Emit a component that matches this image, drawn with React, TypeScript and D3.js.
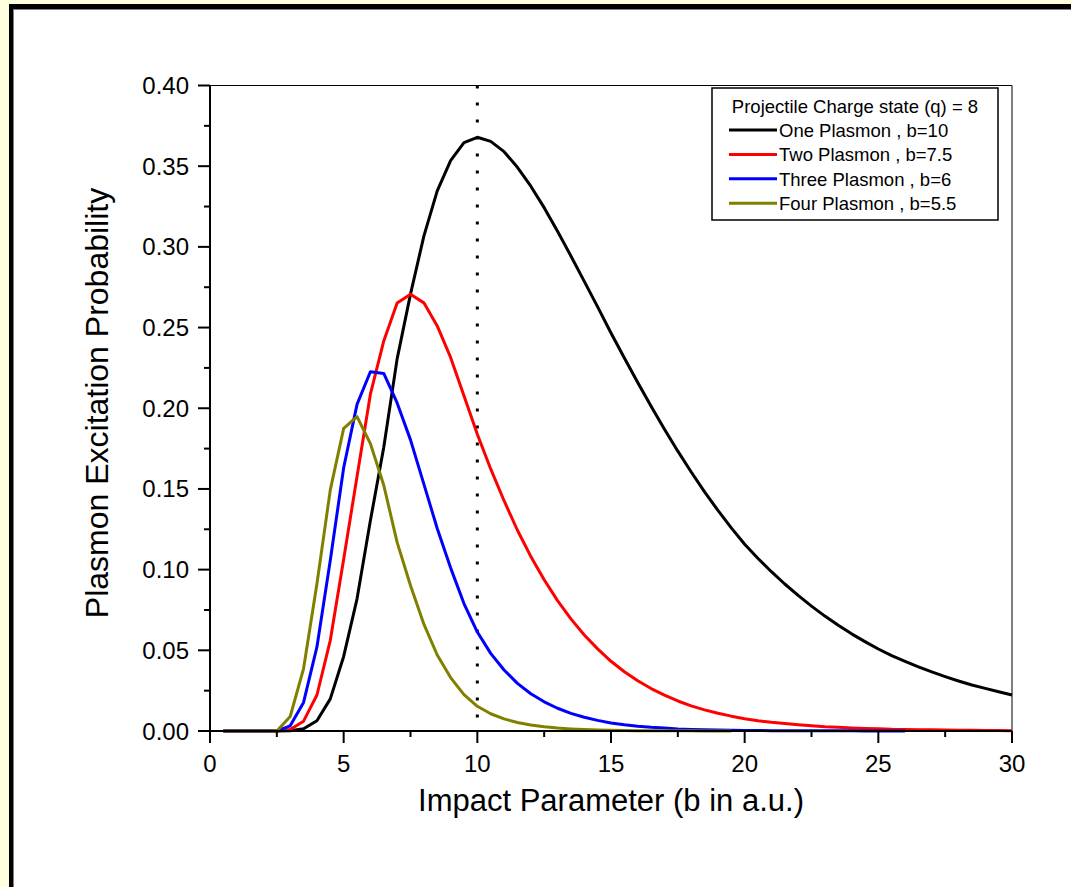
import React from "react";
import * as d3 from "d3";

// ---------- data ----------
const impactParameter: number[] = d3.range(1, 61).map((i) => i * 0.5); // 0.5 .. 30 a.u.

const onePlasmon = [
  0, 0, 0, 0, 0,
  0.0002, 0.0014, 0.0064, 0.0199, 0.0462,
  0.0819, 0.1304, 0.1758, 0.2306, 0.2707,
  0.3067, 0.3347, 0.3535, 0.3646, 0.3679,
  0.3654, 0.359, 0.3493, 0.3376, 0.3243,
  0.3097, 0.2944, 0.2786, 0.2628, 0.2466,
  0.2311, 0.2159, 0.2012, 0.187, 0.1734,
  0.1605, 0.1482, 0.1367, 0.1259, 0.1157,
  0.1069, 0.0987, 0.0911, 0.084, 0.0774,
  0.0712, 0.0655, 0.0602, 0.0554, 0.0508,
  0.0467, 0.0432, 0.0398, 0.0366, 0.0337,
  0.031, 0.0285, 0.0264, 0.0243, 0.0223,
];

const twoPlasmon = [
  0, 0, 0, 0, 0,
  0.0009, 0.0061, 0.0223, 0.0562, 0.1064,
  0.1577, 0.2087, 0.2417, 0.2652, 0.2707,
  0.2653, 0.251, 0.2315, 0.2078, 0.1839,
  0.1624, 0.1427, 0.1244, 0.1082, 0.0937,
  0.0808, 0.0695, 0.0595, 0.0509, 0.0432,
  0.0367, 0.0311, 0.0263, 0.0222, 0.0186,
  0.0156, 0.0131, 0.011, 0.0092, 0.0076,
  0.0064, 0.0054, 0.0046, 0.0039, 0.0033,
  0.0027, 0.0023, 0.0019, 0.0016, 0.0014,
  0.0011, 0.001, 0.0008, 0.0007, 0.0006,
  0.0005, 0.0004, 0.0003, 0.0003, 0.0002,
];

const threePlasmon = [
  0, 0, 0, 0, 0,
  0.0032, 0.0177, 0.0521, 0.1058, 0.1631,
  0.2024, 0.2226, 0.2216, 0.2033, 0.1804,
  0.153, 0.1255, 0.1011, 0.079, 0.0613,
  0.0481, 0.0378, 0.0295, 0.0231, 0.0181,
  0.0141, 0.0109, 0.0085, 0.0066, 0.005,
  0.0039, 0.003, 0.0023, 0.0018, 0.0013,
  0.001, 0.0008, 0.0006, 0.0004, 0.0003,
  0.0003, 0.0002, 0.0002, 0.0001, 0.0001,
  0.0001, 0.0001, 0.0001, 0, 0,
  0, 0,
];

const fourPlasmon = [
  0, 0, 0, 0, 0,
  0.009, 0.0387, 0.0912, 0.1494, 0.1875,
  0.1948, 0.1781, 0.1523, 0.1169, 0.0902,
  0.0662, 0.0471, 0.0331, 0.0225, 0.0153,
  0.0107, 0.0075, 0.0053, 0.0037, 0.0026,
  0.0018, 0.0013, 0.0009, 0.0006, 0.0004,
  0.0003, 0.0002, 0.0002, 0.0001, 0.0001,
  0.0001, 0, 0, 0,
];

const seriesNames = [
  "One Plasmon , b=10",
  "Two Plasmon , b=7.5",
  "Three Plasmon , b=6",
  "Four Plasmon , b=5.5",
];
const seriesColors = ["#000000", "#ff0000", "#0000ff", "#808000"];
const legendTitle = "Projectile Charge state (q) = 8";

const xTicks = [0, 5, 10, 15, 20, 25, 30];
const xMinorTicks = [2.5, 7.5, 12.5, 17.5, 22.5, 27.5];
const yTicks = [0, 0.05, 0.1, 0.15, 0.2, 0.25, 0.3, 0.35, 0.4];
const yMinorTicks = [0.025, 0.075, 0.125, 0.175, 0.225, 0.275, 0.325, 0.375];
const markerX = 10;

const xTitle = "Impact Parameter (b in a.u.)";
const yTitle = "Plasmon Excitation Probability";

// ---------- layout ----------
const W = 1071;
const H = 887;
const FONT = "'Liberation Sans', Arial, Helvetica, sans-serif";

export default function App() {
  const x = d3.scaleLinear().domain([0, 30]).range([210, 1012]);
  const y = d3.scaleLinear().domain([0, 0.4]).range([731, 85.5]);
  const [x0, x1] = x.range();
  const [y0, y1] = y.range();

  const series = [onePlasmon, twoPlasmon, threePlasmon, fourPlasmon];
  const makeLine = (vals: number[]) =>
    d3
      .line<number>()
      .x((_, i) => x(impactParameter[i]))
      .y((d) => y(d))(vals) || "";

  const legend = { x: 712, y: 88, w: 286, h: 132 };

  return (
    <svg
      width={W}
      height={H}
      style={{ position: "absolute", left: 0, top: 0 }}
      fontFamily={FONT}
    >
      {/* frame */}
      <rect x={0} y={0} width={W} height={H} fill="#ffffe0" />
      <rect x={9} y={4} width={W + 20} height={H + 20} fill="#000" />
      <rect x={13} y={9} width={W + 20} height={H + 20} fill="#808080" />
      <rect x={14} y={10} width={W + 20} height={H + 20} fill="#fff" />

      {/* plot frame (top / right thin) */}
      <line x1={x0} x2={x1} y1={y1} y2={y1} stroke="#000" strokeWidth={1} />
      <line x1={x1} x2={x1} y1={y1} y2={y0} stroke="#000" strokeWidth={1} />

      {/* dotted marker */}
      <line
        x1={x(markerX)}
        x2={x(markerX)}
        y1={y1}
        y2={y0}
        stroke="#000"
        strokeWidth={3}
        strokeDasharray="3 14"
      />

      {/* curves */}
      {series.map((vals, i) => (
        <path
          key={i}
          d={makeLine(vals)}
          fill="none"
          stroke={seriesColors[i]}
          strokeWidth={3}
          strokeLinejoin="round"
        />
      ))}

      {/* axes */}
      <line x1={x0} x2={x0} y1={y1} y2={y0 + 1} stroke="#000" strokeWidth={2} />
      <line x1={x0 - 1} x2={x1} y1={y0} y2={y0} stroke="#000" strokeWidth={2} />

      {yTicks.map((t) => (
        <g key={"y" + t}>
          <line x1={x0 - 12} x2={x0} y1={y(t)} y2={y(t)} stroke="#000" strokeWidth={2} />
          <text
            x={x0 - 21}
            y={y(t) + 8.5}
            fontSize={24}
            textAnchor="end"
            fill="#000"
          >
            {t.toFixed(2)}
          </text>
        </g>
      ))}
      {yMinorTicks.map((t) => (
        <line key={"ym" + t} x1={x0 - 6} x2={x0} y1={y(t)} y2={y(t)} stroke="#000" strokeWidth={2} />
      ))}

      {xTicks.map((t) => (
        <g key={"x" + t}>
          <line x1={x(t)} x2={x(t)} y1={y0} y2={y0 + 12} stroke="#000" strokeWidth={2} />
          <text x={x(t)} y={772} fontSize={24} textAnchor="middle" fill="#000">
            {t}
          </text>
        </g>
      ))}
      {xMinorTicks.map((t) => (
        <line key={"xm" + t} x1={x(t)} x2={x(t)} y1={y0} y2={y0 + 6} stroke="#000" strokeWidth={2} />
      ))}

      {/* axis titles */}
      <text x={(x0 + x1) / 2} y={811} fontSize={31} textAnchor="middle" fill="#000">
        {xTitle}
      </text>
      <text
        transform={`translate(108, 403) rotate(-90)`}
        fontSize={32}
        textAnchor="middle"
        fill="#000"
      >
        {yTitle}
      </text>

      {/* legend */}
      <rect
        x={legend.x}
        y={legend.y}
        width={legend.w}
        height={legend.h}
        fill="#fff"
        stroke="#000"
        strokeWidth={1.5}
      />
      <text
        x={legend.x + legend.w / 2}
        y={113}
        fontSize={18.5}
        textAnchor="middle"
        fill="#000"
      >
        {legendTitle}
      </text>
      {seriesNames.map((name, i) => {
        const ly = 130 + i * 24.4;
        return (
          <g key={name}>
            <line x1={729} x2={777} y1={ly} y2={ly} stroke={seriesColors[i]} strokeWidth={3} />
            <text x={779} y={ly + 7} fontSize={18.5} fill="#000">
              {name}
            </text>
          </g>
        );
      })}
    </svg>
  );
}
